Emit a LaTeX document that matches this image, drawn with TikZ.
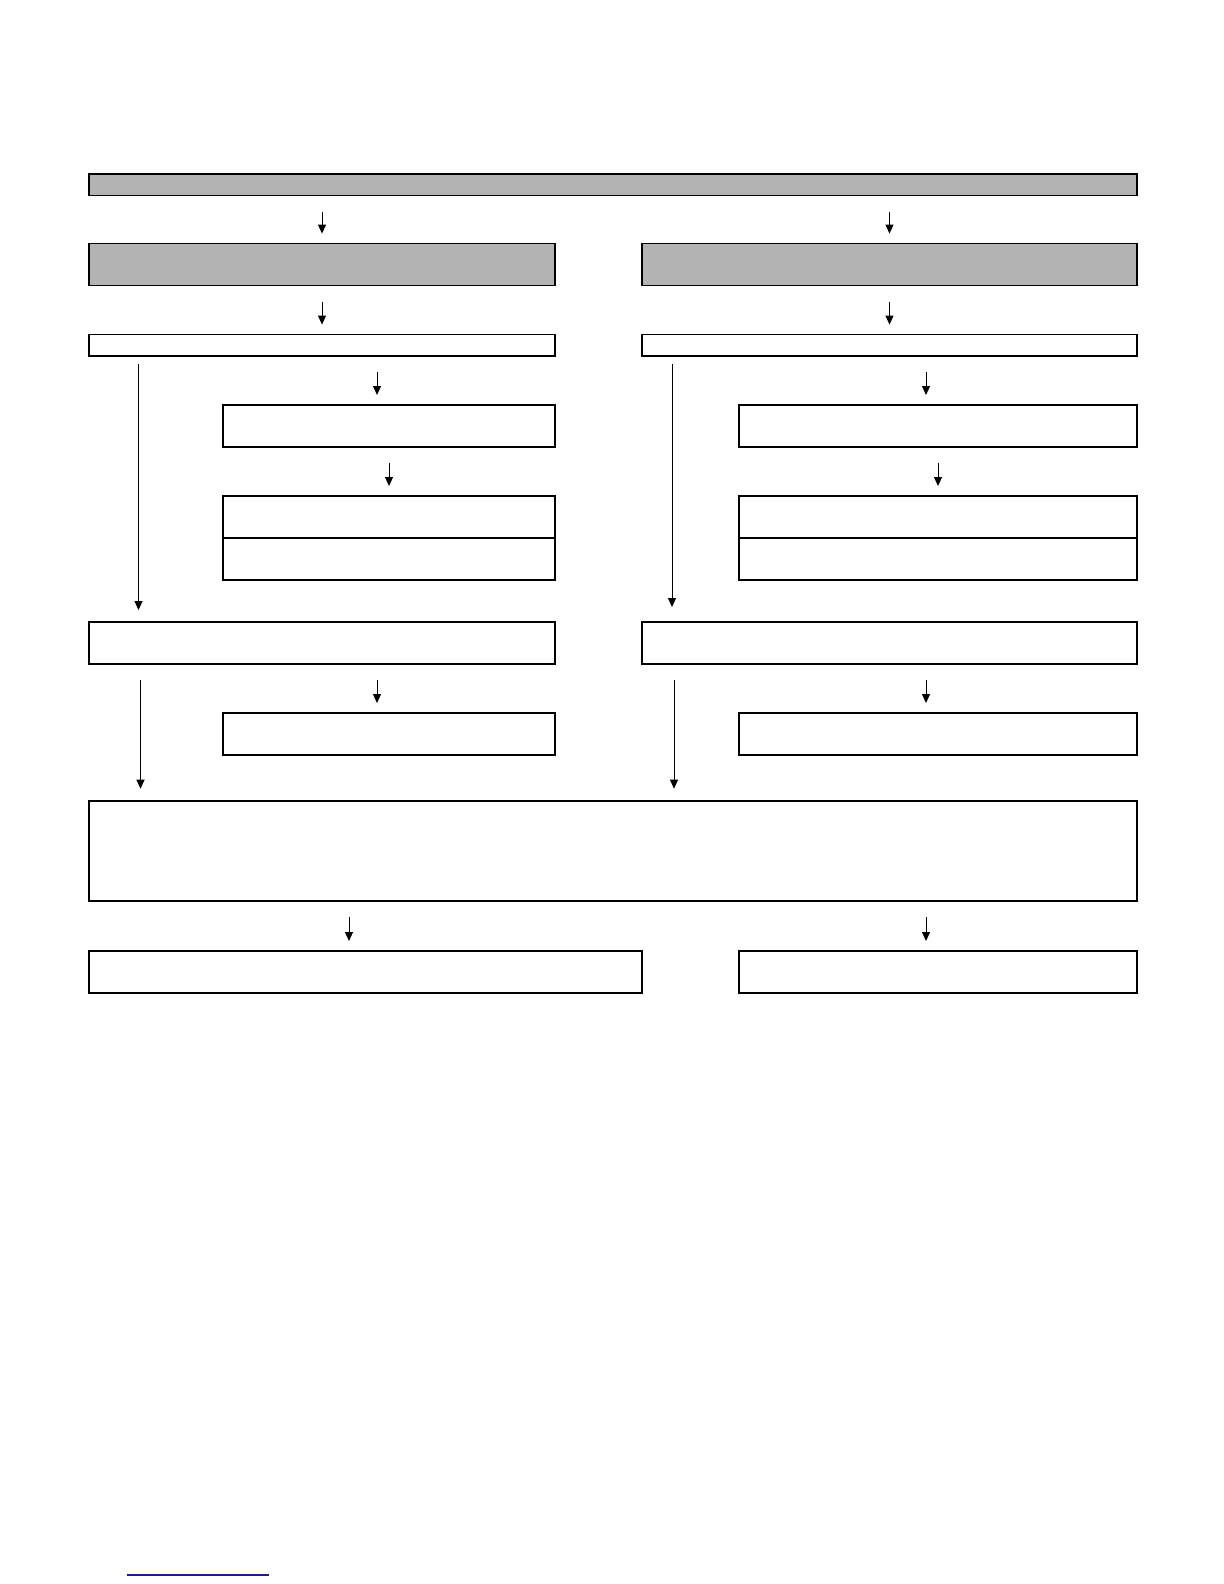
\documentclass[tikz,border=0pt]{standalone}
\usepackage{xcolor}
\definecolor{ggray}{HTML}{B3B3B3}
\definecolor{nnavy}{HTML}{1C1C8A}
\usepackage{tikz}
\usetikzlibrary{calc}
\usetikzlibrary{arrows.meta}
\usetikzlibrary{positioning}
\begin{document}
\begin{tikzpicture}[
    	x=0.5pt, y=-0.5pt,
    	box/.style={draw, line width=0.8pt, inner sep=0pt, outer sep=0pt, anchor=north west, minimum height=21pt},
    	thinbox/.style={box, minimum height=10.75pt},
    	shaded/.style={fill=ggray},
    	-->/.style={-{Triangle[length=4.5pt,width=4pt]}, line width=0.5pt, shorten <=8pt, shorten >=5pt},
    ]
    \path[use as bounding box] (0,0) rectangle (1224,1584);
    \node[thinbox, shaded, minimum width=524pt] (top) at (89,174) {};
    \node[box, shaded, minimum width=233pt] (grayL) at (89,243.6) {};
    \node[box, shaded, minimum width=247.5pt] (grayR) at (642,243.6) {};
    \node[thinbox, minimum width=233pt] (thinL) at (89,334.6) {};
    \node[thinbox, minimum width=247.5pt] (thinR) at (642,334.6) {};
    \node[box, minimum width=166pt] (stepL) at (223,405) {};
    \node[box, minimum width=199pt] (stepR) at (739,405) {};
    \node[box, minimum width=166pt] (pairLa) at (223,496) {};
    \node[box, minimum width=166pt] (pairLb) at (223,538) {};
    \node[box, minimum width=199pt] (pairRa) at (739,496) {};
    \node[box, minimum width=199pt] (pairRb) at (739,538) {};
    \node[box, minimum width=233pt] (midL) at (89,622) {};
    \node[box, minimum width=247.5pt] (midR) at (642,622) {};
    \node[box, minimum width=166pt] (subL) at (223,713) {};
    \node[box, minimum width=199pt] (subR) at (739,713) {};
    \node[box, minimum width=524pt, minimum height=50pt] (big) at (89,800.7) {};
    \node[box, minimum width=276.5pt] (endL) at (89,951) {};
    \node[box, minimum width=199pt] (endR) at (739,951) {};
    \coordinate (aL) at (377,0);
    \coordinate (aR) at (926,0);
    \coordinate (longLa) at (138.5,0);
    \coordinate (longRa) at (672,0);
    \coordinate (longLb) at (140.5,0);
    \coordinate (longRb) at (674,0);
    \coordinate (bL) at (349,0);
    \draw [-->] (top.south -| grayL) -- (grayL.north);
    \draw [-->] (top.south -| grayR) -- (grayR.north);
    \draw [-->] (grayL.south) -- (thinL.north);
    \draw [-->] (grayR.south) -- (thinR.north);
    \draw [-->] (thinL.south -| aL) -- (stepL.north -| aL);
    \draw [-->] (thinR.south -| aR) -- (stepR.north -| aR);
    \draw [-->] (stepL.south) -- (pairLa.north);
    \draw [-->] (stepR.south) -- (pairRa.north);
    \draw [-->, shorten <=4pt, shorten >=6pt] (thinL.south -| longLa) -- (midL.north -| longLa);
    \draw [-->, shorten <=4pt, shorten >=7.5pt] (thinR.south -| longRa) -- (midR.north -| longRa);
    \draw [-->] (midL.south -| aL) -- (subL.north -| aL);
    \draw [-->] (midR.south -| aR) -- (subR.north -| aR);
    \draw [-->, shorten >=6pt] (midL.south -| longLb) -- (big.north -| longLb);
    \draw [-->, shorten >=6pt] (midR.south -| longRb) -- (big.north -| longRb);
    \draw [-->] (big.south -| bL) -- (endL.north -| bL);
    \draw [-->] (big.south -| aR) -- (endR.north -| aR);
    \draw [nnavy, line width=1pt] (127,1575) -- (269,1575);
    \end{tikzpicture}
\end{document}
